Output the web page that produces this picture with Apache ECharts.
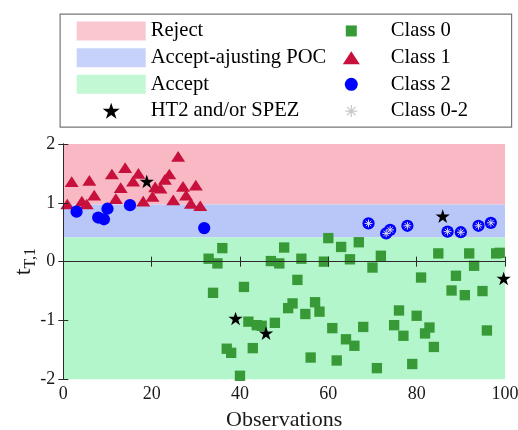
<!DOCTYPE html>
<html><head><meta charset="utf-8">
<script src="https://cdn.jsdelivr.net/npm/echarts@6/dist/echarts.min.js"></script>
<style>html,body{margin:0;padding:0;background:#fff}#c{width:518px;height:430px}</style>
</head><body><div id="c"></div>
<script>
// ---- data ----
const xTicks = [0, 20, 40, 60, 80, 100];
const yTicks = [-2, -1, 0, 1, 2];
const bandReject = [0.97, 2];
const bandAdjust = [0.41, 0.97];
const bandAccept = [-2, 0.41];

const class0 = [
  [32.9,0.05],[34.9,-0.03],[36.0,0.23],[33.9,-0.53],[40.9,-0.43],[37.0,-1.48],[38.0,-1.55],[40.0,-1.94],
  [41.9,-1.02],[42.9,-1.47],[43.8,-1.08],[44.9,-1.09],[47.0,0.01],[47.9,-1.04],[48.9,-0.03],[50.0,0.24],
  [50.9,-0.79],[51.9,-0.71],[53.0,-0.31],[53.9,0.05],[54.8,-0.89],[56.0,-1.63],[57.0,-0.69],[58.0,-0.85],
  [59.0,0.0],[60.0,0.40],[60.9,-1.13],[61.9,-1.68],[62.9,0.25],[64.0,-1.32],[64.9,0.04],[65.9,-1.43],
  [66.9,0.33],[67.9,-1.11],[70.0,-0.10],[71.0,-1.81],[71.9,0.10],[74.9,-1.08],[76.0,-0.83],[77.0,-1.26],
  [79.0,-1.74],[80.0,-0.92],[81.0,-0.27],[81.9,-1.22],[82.9,-1.12],[83.9,-1.45],[84.9,0.14],[87.9,-0.49],
  [88.9,-0.24],[90.9,-0.57],[91.9,0.14],[93.0,-0.07],[94.9,-0.50],[95.9,-1.17],[98.0,0.14],[98.8,0.15]
];
const class1 = [
  [0.9,0.98],[1.9,1.36],[4.2,1.03],[5.3,0.98],[5.9,1.38],[7.0,1.13],[11.0,1.49],[11.9,1.07],
  [13.0,1.26],[14.0,1.60],[15.8,1.37],[17.0,1.50],[18.1,1.03],[20.2,1.11],[20.8,1.27],[22.0,1.25],
  [23.0,1.40],[24.0,1.49],[24.9,1.05],[26.0,1.79],[27.1,1.28],[27.8,1.13],[28.9,0.99],[30.0,1.30],[31.0,0.95]
];
const class2 = [
  [3.0,0.85],[7.9,0.75],[9.2,0.72],[10.0,0.90],[15.1,0.96],[31.9,0.57]
];
const class02 = [
  [69.1,0.65],[73.1,0.48],[74.0,0.54],[77.9,0.61],[87.0,0.51],[90.0,0.50],[94.0,0.61],[96.8,0.66]
];
const stars = [[18.9,1.36],[39.0,-0.97],[45.9,-1.22],[85.9,0.77],[99.7,-0.29]];

// ---- symbols ----
const SQ = 'path://M0,0M17,17M3,3L14,3L14,14L3,14Z';
const TRI = 'path://M0,0M17,17M0,15L8.5,2L17,15Z';
const CIR = 'path://M0,0M17,17M2,8.5A6.5,6.5,0,1,1,15,8.5A6.5,6.5,0,1,1,2,8.5Z';
const STAR = 'path://M0,0M17,17M8.5,1L10.32,6.49L16.11,6.53L11.45,9.96L13.2,15.47L8.5,12.1L3.8,15.47L5.55,9.96L0.89,6.53L6.68,6.49Z';
const AST = 'path://M0,0M17,17M8.5,2.5L8.5,14.5M2.5,8.5L14.5,8.5M4.26,4.26L12.74,12.74M4.26,12.74L12.74,4.26';

const FONT = "'Liberation Serif', 'Times New Roman', Times, serif";
const C_PINK = '#f9b9c4', C_BLUE = '#b8c7f7', C_GREEN = '#b4f6cb';
const C0 = '#379a37', C1 = '#c8103c', C2 = '#0000ff', CAST = '#d8d8e4';

const chart = echarts.init(document.getElementById('c'), null, {renderer: 'canvas'});

function band(name, color, range) {
  return {
    type: 'scatter', name: name, data: [], color: color, z: 1, silent: true,
    markArea: { silent: true, itemStyle: { color: color, opacity: 1 },
      data: [[{ yAxis: range[0] }, { yAxis: range[1] }]] }
  };
}
const axisCommon = {
  min: 0, max: 100, interval: 20, z: 10,
  axisLine: { show: true, lineStyle: { color: '#2a2a2a', width: 1 } },
  axisTick: { show: true, inside: true, length: 5, lineStyle: { color: '#2a2a2a' } },
  splitLine: { show: false }
};

chart.setOption({
  animation: false,
  backgroundColor: '#fff',
  textStyle: { fontFamily: FONT },
  grid: { left: 63.3, right: 13, top: 144, bottom: 50.7, containLabel: false, outerBoundsMode: 'none' },
  graphic: [{
    type: 'rect', left: 59.5, top: 13.5, z: 0,
    shape: { width: 451.5, height: 113 },
    style: { fill: '#fff', stroke: '#777', lineWidth: 1.2 }
  }],
  legend: [{
    orient: 'vertical', left: 76.7, top: 17.6, padding: 0, itemGap: 0,
    itemWidth: 69, itemHeight: 19, selectedMode: false, symbolKeepAspect: true, z: 5,
    textStyle: { fontFamily: FONT, fontSize: 20.6, color: '#000', lineHeight: 26.7 },
    data: [
      { name: 'Reject', icon: 'rect' },
      { name: 'Accept-ajusting POC', icon: 'rect' },
      { name: 'Accept', icon: 'rect' },
      { name: 'HT2 and/or SPEZ', icon: STAR }
    ]
  }, {
    orient: 'vertical', left: 342.2, top: 17.6, padding: 0, itemGap: 0,
    itemWidth: 69, itemHeight: 17, selectedMode: false, symbolKeepAspect: true, z: 5,
    textStyle: { fontFamily: FONT, fontSize: 20.6, color: '#000', lineHeight: 26.7 },
    data: [
      { name: 'Class 0', icon: SQ },
      { name: 'Class 1', icon: TRI },
      { name: 'Class 2', icon: CIR },
      { name: 'Class 0-2', icon: AST, itemStyle: { color: CAST, borderColor: '#c8c8c8', borderWidth: 1.2 } }
    ]
  }],
  xAxis: [
    Object.assign({}, axisCommon, {
      type: 'value', position: 'bottom',
      name: 'Observations', nameLocation: 'middle', nameGap: 30, nameMoveOverlap: false,
      nameTextStyle: { fontFamily: FONT, fontSize: 22, color: '#1a1a1a' },
      axisLabel: { fontFamily: FONT, fontSize: 18, color: '#1a1a1a', margin: 6,
        formatter: v => xTicks.includes(v) ? String(v) : '' }
    }),
    Object.assign({}, axisCommon, { type: 'value', position: 'top', axisLabel: { show: false } })
  ],
  yAxis: [
    Object.assign({}, axisCommon, {
      type: 'value', position: 'left', min: -2, max: 2, interval: 1,
      name: '{t|t}{s|T,1}', nameLocation: 'middle', nameGap: 25, nameRotate: 90, nameMoveOverlap: false,
      nameTextStyle: { fontFamily: FONT, color: '#1a1a1a',
        rich: { t: { fontFamily: FONT, fontSize: 24, lineHeight: 30, color: '#1a1a1a' },
                s: { fontFamily: FONT, fontSize: 16, lineHeight: 16, verticalAlign: 'bottom', color: '#1a1a1a' } } },
      axisLabel: { fontFamily: FONT, fontSize: 18, color: '#1a1a1a', margin: 8,
        formatter: v => yTicks.includes(v) ? String(v) : '' }
    }),
    Object.assign({}, axisCommon, { type: 'value', position: 'right', min: -2, max: 2, interval: 1, axisLabel: { show: false } })
  ],
  series: [
    band('Reject', C_PINK, bandReject),
    band('Accept-ajusting POC', C_BLUE, bandAdjust),
    band('Accept', C_GREEN, bandAccept),
    { type: 'scatter', name: 'Class 1', data: class1, symbol: TRI, symbolSize: 14, z: 3, color: C1, itemStyle: { color: C1, opacity: 1 } },
    { type: 'scatter', name: 'Class 0', data: class0, symbol: SQ, symbolSize: 16, z: 3, color: C0, itemStyle: { color: C0, opacity: 1 } },
    { type: 'scatter', name: 'Class 2', data: class2.concat(class02), symbol: CIR, symbolSize: 16, z: 4, color: C2, itemStyle: { color: C2, opacity: 1 } },
    { type: 'scatter', name: 'Class 0-2', data: class02, symbol: AST, symbolSize: 11, z: 5, color: CAST,
      itemStyle: { color: CAST, borderColor: CAST, borderWidth: 1, opacity: 1 } },
    { type: 'scatter', name: 'HT2 and/or SPEZ', data: stars, symbol: STAR, symbolSize: 16, z: 6, clip: false, color: '#000',
      itemStyle: { color: '#000', opacity: 1 } }
  ]
});
</script></body></html>
